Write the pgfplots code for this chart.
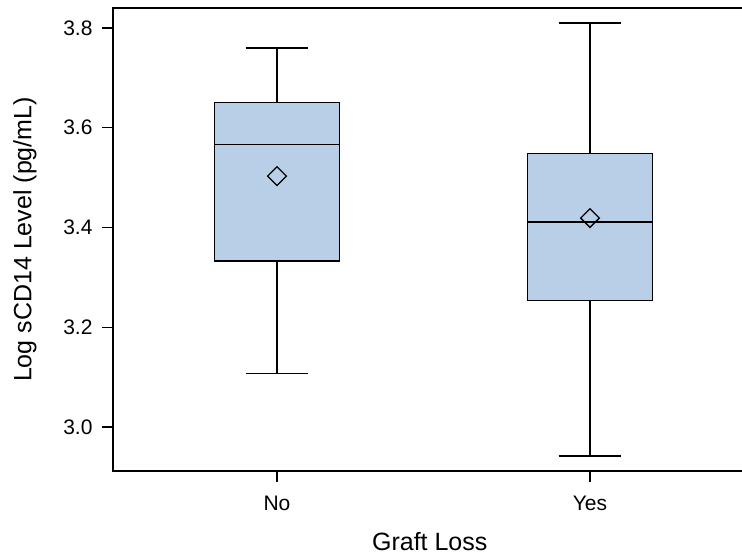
\documentclass[border=0pt]{standalone}
\usepackage{pgfplots}
\pgfplotsset{compat=1.18}
\usetikzlibrary{calc}
\usepackage{fontspec}
\setmainfont{Liberation Sans}
\definecolor{boxblue}{RGB}{185,206,231}
\begin{document}
\begin{tikzpicture}
\begin{axis}[
  scale only axis,
  width=633.5pt, height=463pt,
  xmin=0.476, xmax=2.5,
  ymin=2.912, ymax=3.840,
  xtick={1,2}, xticklabels={No,Yes},
  ytick={3.0,3.2,3.4,3.6,3.8},
  yticklabel style={/pgf/number format/fixed, /pgf/number format/fixed zerofill, /pgf/number format/precision=1, xshift=-6pt},
  /pgf/number format/assume math mode=true,
  tick pos=left,
  tick align=outside,
  major tick length=11pt,
  axis line style={line width=1.6pt},
  every tick/.style={black, line width=1.3pt},
  tick label style={font=\fontsize{21}{25}\selectfont},
  xticklabel style={yshift=-11pt},
  label style={font=\fontsize{25}{30}\selectfont},
  xlabel={Graft Loss},
  ylabel={Log sCD14 Level (pg/mL)},
  xlabel style={at={(axis description cs:0.5,0)}, anchor=base, yshift=-79pt},
  ylabel style={at={(axis description cs:-0.139,0.5)}, anchor=center},
  clip=false,
]
% Box: No
\addplot[draw=black, fill=boxblue, line width=1.3pt, line join=miter] coordinates {(0.8,3.333) (1.2,3.333) (1.2,3.650) (0.8,3.650)} -- cycle;
\addplot[black, line width=1.3pt] coordinates {(0.8,3.566) (1.2,3.566)};
\addplot[black, line width=1.3pt] coordinates {(1,3.650) (1,3.760)};
\addplot[black, line width=1.3pt] coordinates {(0.9,3.760) (1.1,3.760)};
\addplot[black, line width=1.3pt] coordinates {(1,3.333) (1,3.108)};
\addplot[black, line width=1.3pt] coordinates {(0.9,3.108) (1.1,3.108)};
% Box: Yes
\addplot[draw=black, fill=boxblue, line width=1.3pt, line join=miter] coordinates {(1.8,3.254) (2.2,3.254) (2.2,3.548) (1.8,3.548)} -- cycle;
\addplot[black, line width=1.3pt] coordinates {(1.8,3.411) (2.2,3.411)};
\addplot[black, line width=1.3pt] coordinates {(2,3.548) (2,3.810)};
\addplot[black, line width=1.3pt] coordinates {(1.9,3.810) (2.1,3.810)};
\addplot[black, line width=1.3pt] coordinates {(2,3.254) (2,2.942)};
\addplot[black, line width=1.3pt] coordinates {(1.9,2.942) (2.1,2.942)};
% Means
\addplot[only marks, mark=square, mark size=6.6pt, mark options={rotate=45, line width=1.3pt, draw=black, fill=none}] coordinates {(1,3.503) (2,3.419)};
\end{axis}
\pgfresetboundingbox
\path[use as bounding box] ($(current axis.south west)+(-113pt,-83pt)$) rectangle ($(current axis.south west)+(629pt,471pt)$);
\end{tikzpicture}
\end{document}
